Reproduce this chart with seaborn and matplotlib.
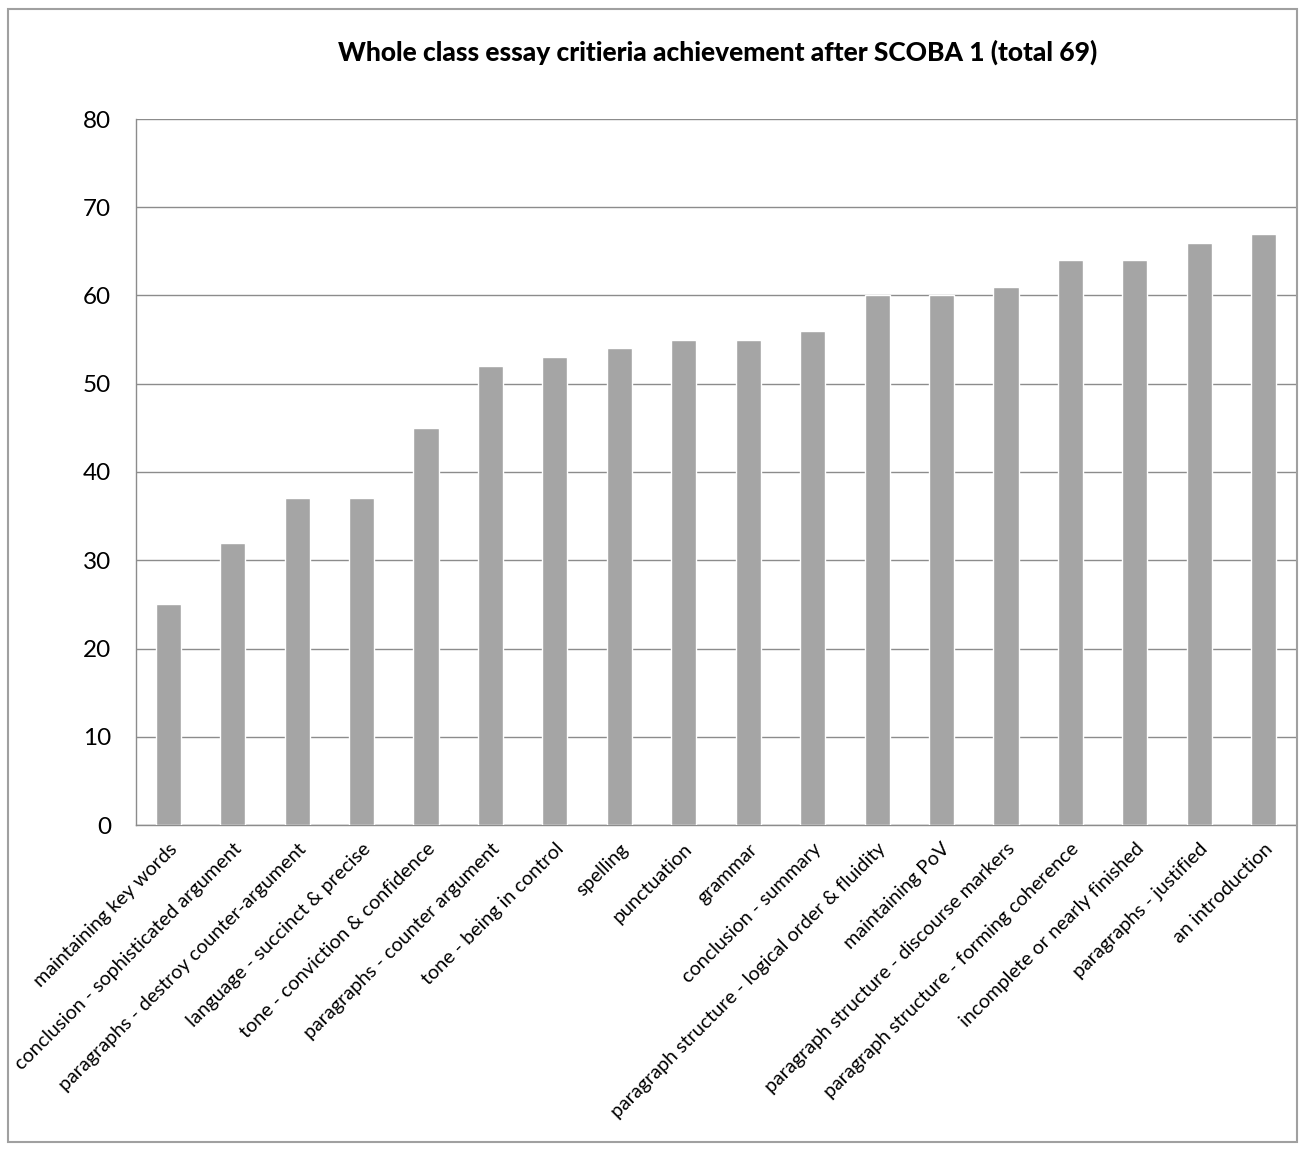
import matplotlib
matplotlib.use("Agg")
import matplotlib.pyplot as plt
from matplotlib.patches import Rectangle
import seaborn as sns
import pandas as pd

categories = [
    "maintaining key words",
    "conclusion - sophisticated argument",
    "paragraphs - destroy counter-argument",
    "language - succinct & precise",
    "tone - conviction & confidence",
    "paragraphs - counter argument",
    "tone - being in control",
    "spelling",
    "punctuation",
    "grammar",
    "conclusion - summary",
    "paragraph structure - logical order & fluidity",
    "maintaining PoV",
    "paragraph structure - discourse markers",
    "paragraph structure - forming coherence",
    "incomplete or nearly finished",
    "paragraphs - justified",
    "an introduction",
]
values = [25, 32, 37, 37, 45, 52, 53, 54, 55, 55, 56, 60, 60, 61, 64, 64, 66, 67]
y_ticks = [0, 10, 20, 30, 40, 50, 60, 70, 80]
title = "Whole class essay critieria achievement after SCOBA 1 (total 69)"

sns.set_theme(style="white")
plt.rcParams["font.family"] = ["Lato", "DejaVu Sans"]

df = pd.DataFrame({"criterion": categories, "count": values})

fig = plt.figure(figsize=(13.04, 11.52), dpi=100)
ax = fig.add_axes([136 / 1304, 1 - 825 / 1152, (1296 - 136) / 1304, (825 - 119) / 1152])

sns.barplot(data=df, x="criterion", y="count", color="#A5A5A5", saturation=1,
            width=0.39, ax=ax, zorder=3)

ax.set_ylim(0, 80)
ax.set_xlim(-0.5, len(categories) - 0.5)
ax.set_yticks(y_ticks)
ax.set_yticklabels([str(t) for t in y_ticks], fontsize=17.5, color="black")
ax.yaxis.grid(True, color="#8C8C8C", linewidth=1.0, zorder=0)
ax.set_axisbelow(True)
ax.set_xlabel("")
ax.set_ylabel("")

# category boundary ticks on the x axis
ax.set_xticks([i - 0.5 for i in range(len(categories) + 1)], minor=True)
ax.tick_params(axis="x", which="minor", length=6, color="#8C8C8C", width=1, direction="out")
ax.tick_params(axis="x", which="major", length=0, pad=11)
ax.tick_params(axis="y", which="major", length=8, color="#8C8C8C", width=1, direction="out", pad=10)
ax.set_xticks(range(len(categories)))
ax.set_xticklabels(categories, rotation=45, ha="right", rotation_mode="anchor",
                   fontsize=14.2, color="black")

for side in ["top", "right"]:
    ax.spines[side].set_visible(False)
for side in ["left", "bottom"]:
    ax.spines[side].set_color("#8C8C8C")
    ax.spines[side].set_linewidth(1.0)

fig.text(718 / 1304, 1 - 52 / 1152, title, ha="center", va="center",
         fontsize=19, fontweight="black", color="black")

# outer chart frame
fig.patches.append(Rectangle((8 / 1304, 1 - 1142 / 1152), (1297 - 8) / 1304, (1142 - 9) / 1152,
                             transform=fig.transFigure, fill=False,
                             edgecolor="#A0A0A0", linewidth=1.5))

fig.savefig("out.png", dpi=100)
